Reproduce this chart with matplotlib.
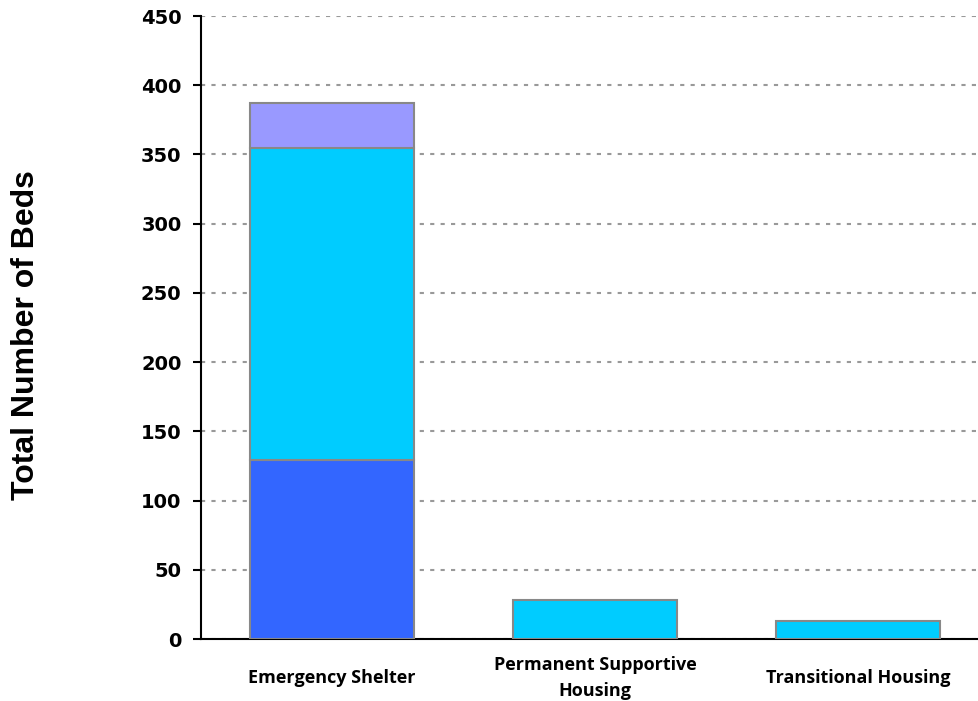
import numpy as np
import matplotlib.pyplot as plt

categories = ["Emergency Shelter", "Permanent Supportive\nHousing", "Transitional Housing"]
seg_dark = [129, 0, 0]
seg_cyan = [226, 28, 13]
seg_lav = [32, 0, 0]

fig = plt.figure(figsize=(9.79, 7.01), dpi=100)
ax = fig.add_axes([0.2053, 0.0884, 0.7947, 0.8887])

x = np.arange(len(categories))
w = 0.62
ec = "#888888"
lw = 1.5

b1 = np.array(seg_dark)
b2 = np.array(seg_cyan)
b3 = np.array(seg_lav)

# stacked bars, only draw non-empty segments
for i in range(len(categories)):
    bottom = 0
    for vals, col in [(b1, "#3366FF"), (b2, "#00CCFF"), (b3, "#9999FF")]:
        if vals[i] > 0:
            ax.bar(x[i], vals[i], w, bottom=bottom, color=col, edgecolor=ec,
                   linewidth=lw, zorder=3)
            bottom += vals[i]

ax.set_xlim(-0.498, 2.46)
ax.set_ylim(0, 450)
ax.set_yticks(np.arange(0, 451, 50))
ax.yaxis.grid(True, linestyle=(0, (2, 3)), color="#999999", linewidth=1.5, zorder=0)

for s in ["top", "right"]:
    ax.spines[s].set_visible(False)
ax.spines["left"].set_linewidth(1.5)
ax.spines["bottom"].set_linewidth(1.5)

ax.tick_params(axis="y", length=6, width=1.5, pad=8)
ax.tick_params(axis="x", length=0, pad=28)
ax.set_xticks(x)
ax.set_xticklabels(categories, fontsize=13, fontweight="bold", family="Open Sans",
                   linespacing=1.6)
for t in ax.get_xticklabels():
    t.set_va("center")
for t in ax.get_yticklabels():
    t.set_fontsize(14)
    t.set_fontweight("bold")
    t.set_family("DejaVu Sans")

fig.text(0.027, 0.522, "Total Number of Beds", rotation=90, va="center", ha="center",
         fontsize=23, fontweight="bold", family="Liberation Sans")

fig.savefig("out.png", dpi=100)
